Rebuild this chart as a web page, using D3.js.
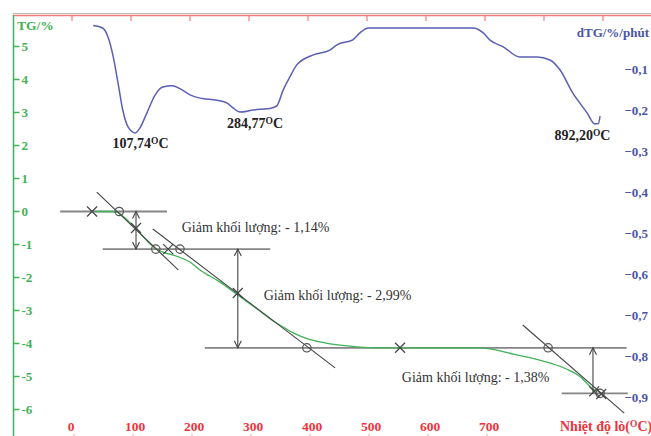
<!DOCTYPE html>
<html>
<head>
<meta charset="utf-8">
<script src="https://cdn.jsdelivr.net/npm/d3@7"></script>
<style>
  body { margin: 0; background: #fff; }
  svg { display: block; font-family: "Liberation Serif", "Times New Roman", serif; }
</style>
</head>
<body>
<svg id="tga_chart"></svg>
<script>
// axis ticks
const tempTicks = [0, 100, 200, 300, 400, 500, 600, 700, 800, 900];
const tempLabels = [0, 100, 200, 300, 400, 500, 600, 700];
const tgTicks = [5, 4, 3, 2, 1, 0, -1, -2, -3, -4, -5, -6];
const dtgTicks = [-0.1, -0.2, -0.3, -0.4, -0.5, -0.6, -0.7, -0.8, -0.9];

// TG curve (temperature, %)
const tgTemp = [39, 64, 78, 88, 98, 108, 120, 132, 142, 154, 178, 200, 217, 251, 281, 319, 344, 358, 375, 395,
  420, 454, 483, 522, 600, 692, 720, 750, 781, 815, 839, 861, 878, 890];
const tgValue = [0, 0, -0.03, -0.17, -0.33, -0.5, -0.75, -0.98, -1.13, -1.23, -1.36, -1.53, -1.77, -2.14, -2.53, -3.02, -3.35, -3.5, -3.68, -3.83,
  -3.95, -4.05, -4.1, -4.13, -4.13, -4.13, -4.2, -4.33, -4.45, -4.62, -4.78, -5.0, -5.3, -5.47];

// dTG curve (temperature, %/min)
const dtgTemp = [36, 52, 61, 70, 78, 86, 95, 107.7, 115, 127, 141, 154, 170, 183, 200, 217, 246, 263, 273, 284.8,
  307, 339, 347, 358, 369, 381, 408, 437, 449, 476, 488, 502, 680, 697, 708, 731, 759, 788, 810, 827,
  849, 873, 886, 892.2, 895];
const dtgValue = [0.006, 0, -0.022, -0.071, -0.134, -0.2, -0.241, -0.256, -0.244, -0.207, -0.163, -0.144, -0.141, -0.148, -0.163, -0.171, -0.176, -0.183, -0.195, -0.205,
  -0.2, -0.195, -0.19, -0.151, -0.12, -0.09, -0.066, -0.054, -0.041, -0.029, -0.012, 0, 0, -0.012, -0.029, -0.046, -0.071, -0.071, -0.078, -0.102,
  -0.159, -0.207, -0.234, -0.233, -0.215];

// dTG peaks
const peakTemp = [107.74, 284.77, 892.20];
const peakValue = [-0.256, -0.205, -0.234];
const peakLabels = ['107,74', '284,77', '892,20'];

// mass loss steps
const massLoss = [1.14, 2.99, 1.38];
const lossLabels = ['Giảm khối lượng: - 1,14%', 'Giảm khối lượng: - 2,99%', 'Giảm khối lượng: - 1,38%'];
const lossLabelTemp = [186, 325, 559];
const lossLabelTG = [-0.62, -2.67, -5.17];

// construction lines
const levelSpan = [[-20, 161], [52, 336], [225, 940], [830, 942]];
const tangentTemp = [[42, 180], [137, 446], [764, 936]];
const tangentTG = [[0.59, -1.77], [-0.53, -4.74], [-3.44, -6.11]];
const arrowTemp = [108.5, 281, 883];
const circleTemp = [80, 142, 183, 398, 807, 895];
const circleLevel = [0, 1, 1, 2, 2, 3];
const crossTemp = [34, 108.5, 163, 281, 556, 885, 897];
const crossTG = [0, -0.5, -1.14, -2.47, -4.13, -5.45, -5.53];

function makeChart() {
    let w = 651;
    let h = 436;

    let green = '#3fb257';
    let red = '#ee3340';
    let blue = '#4c55a6';
    let gray = '#858585';
    let dark = '#444';

    // TG levels from the cumulative mass loss
    let levels = [0].concat(Array.from(d3.cumsum(massLoss), (d) => -d));

    let svg = d3.select('#tga_chart')
        .attr('width', w)
        .attr('height', h);

    let xScale = d3.scaleLinear()
        .domain([0, 900])
        .range([72, 603]);

    let yTG = d3.scaleLinear()
        .domain([-6, 5])
        .range([409.5, 46.5]);

    let yDTG = d3.scaleLinear()
        .domain([-0.9, 0])
        .range([397, 28]);

    // top temperature line with ticks
    svg.append('line')
        .attr('x1', 13).attr('x2', w)
        .attr('y1', 13.5).attr('y2', 13.5)
        .attr('stroke', '#bbb')
        .attr('stroke-width', 1);

    svg.append('line')
        .attr('x1', 13).attr('x2', w)
        .attr('y1', 15.5).attr('y2', 15.5)
        .attr('stroke', '#f47c7c')
        .attr('stroke-width', 1.5);

    svg.selectAll('.top-tick')
        .data(tempTicks)
        .enter()
        .append('line')
        .attr('class', 'top-tick')
        .attr('x1', (d) => xScale(d)).attr('x2', (d) => xScale(d))
        .attr('y1', 15).attr('y2', 21)
        .attr('stroke', '#f47c7c')
        .attr('stroke-width', 1.2);

    svg.selectAll('.bottom-tick')
        .data(tempLabels)
        .enter()
        .append('line')
        .attr('class', 'bottom-tick')
        .attr('x1', (d) => xScale(d) + 2).attr('x2', (d) => xScale(d) + 2)
        .attr('y1', 434).attr('y2', 436)
        .attr('stroke', '#f7a0a0')
        .attr('stroke-width', 1);

    svg.selectAll('.temp-label')
        .data(tempLabels)
        .enter()
        .append('text')
        .attr('class', 'temp-label')
        .attr('x', (d) => xScale(d) + (d === 0 ? -1 : 4))
        .attr('y', 431)
        .attr('text-anchor', 'middle')
        .attr('font-size', '13.5px')
        .attr('font-weight', 'bold')
        .attr('fill', red)
        .text((d) => d);

    let tempTitle = svg.append('text')
        .attr('x', 560)
        .attr('y', 431)
        .attr('font-size', '14px')
        .attr('font-weight', 'bold')
        .attr('fill', red);
    tempTitle.append('tspan').text('Nhiệt độ lò(');
    tempTitle.append('tspan').attr('font-size', '9.5px').attr('dy', -4).text('O');
    tempTitle.append('tspan').attr('dy', 4).text('C)');

    // left TG axis
    svg.append('line')
        .attr('x1', 13.5).attr('x2', 13.5)
        .attr('y1', 15).attr('y2', h)
        .attr('stroke', green)
        .attr('stroke-width', 1.5);

    svg.selectAll('.tg-tick')
        .data(tgTicks)
        .enter()
        .append('line')
        .attr('class', 'tg-tick')
        .attr('x1', 13).attr('x2', 19.5)
        .attr('y1', (d) => yTG(d)).attr('y2', (d) => yTG(d))
        .attr('stroke', green)
        .attr('stroke-width', 1.5);

    svg.selectAll('.tg-label')
        .data(tgTicks)
        .enter()
        .append('text')
        .attr('class', 'tg-label')
        .attr('x', 21.5)
        .attr('y', (d) => yTG(d) + 4.5)
        .attr('font-size', '13px')
        .attr('font-weight', 'bold')
        .attr('fill', green)
        .text((d) => d);

    svg.append('text')
        .attr('x', 17)
        .attr('y', 30)
        .attr('font-size', '13.5px')
        .attr('font-weight', 'bold')
        .attr('fill', green)
        .text('TG/%');

    // right dTG labels
    svg.selectAll('.dtg-label')
        .data(dtgTicks)
        .enter()
        .append('text')
        .attr('class', 'dtg-label')
        .attr('x', 648)
        .attr('y', (d) => yDTG(d) + 4.5)
        .attr('text-anchor', 'end')
        .attr('font-size', '13px')
        .attr('font-weight', 'bold')
        .attr('fill', blue)
        .text((d) => d3.format('.1f')(d).replace('.', ','));

    svg.append('text')
        .attr('x', 649)
        .attr('y', 37)
        .attr('text-anchor', 'end')
        .attr('font-size', '13px')
        .attr('font-weight', 'bold')
        .attr('fill', blue)
        .text('dTG/%/phút');

    // dTG curve
    let dtgLine = d3.line()
        .x((d) => xScale(dtgTemp[d]))
        .y((d) => yDTG(dtgValue[d]))
        .curve(d3.curveMonotoneX);

    svg.append('path')
        .attr('d', dtgLine(d3.range(dtgTemp.length)))
        .attr('fill', 'none')
        .attr('stroke', '#5a60b4')
        .attr('stroke-width', 1.5);

    let peakDx = [5, 15, -16];
    let peakDy = [15, 16, 16];
    peakTemp.forEach((t, i) => {
        let label = svg.append('text')
            .attr('x', xScale(t) + peakDx[i])
            .attr('y', yDTG(peakValue[i]) + peakDy[i])
            .attr('text-anchor', 'middle')
            .attr('font-size', '14px')
            .attr('font-weight', 'bold')
            .attr('fill', '#222');
        label.append('tspan').text(peakLabels[i]);
        label.append('tspan').attr('font-size', '9.5px').attr('dy', -4).text('O');
        label.append('tspan').attr('dy', 4).text('C');
    });

    // level lines
    svg.selectAll('.level')
        .data(levelSpan)
        .enter()
        .append('line')
        .attr('class', 'level')
        .attr('x1', (d) => xScale(d[0])).attr('x2', (d) => xScale(d[1]))
        .attr('y1', (d, i) => yTG(levels[i])).attr('y2', (d, i) => yTG(levels[i]))
        .attr('stroke', gray)
        .attr('stroke-width', 1.8);

    // TG curve
    let tgLine = d3.line()
        .x((d) => xScale(tgTemp[d]))
        .y((d) => yTG(tgValue[d]))
        .curve(d3.curveMonotoneX);

    svg.append('path')
        .attr('d', tgLine(d3.range(tgTemp.length)))
        .attr('fill', 'none')
        .attr('stroke', green)
        .attr('stroke-width', 1.3);

    // tangent lines
    svg.selectAll('.tangent')
        .data(tangentTemp)
        .enter()
        .append('line')
        .attr('class', 'tangent')
        .attr('x1', (d) => xScale(d[0])).attr('x2', (d) => xScale(d[1]))
        .attr('y1', (d, i) => yTG(tangentTG[i][0])).attr('y2', (d, i) => yTG(tangentTG[i][1]))
        .attr('stroke', dark)
        .attr('stroke-width', 1.1);

    // mass loss arrows
    arrowTemp.forEach((t, i) => {
        let ax = xScale(t);
        let yTop = yTG(levels[i]);
        let yBot = yTG(levels[i + 1]);
        svg.append('line')
            .attr('x1', ax).attr('x2', ax)
            .attr('y1', yTop).attr('y2', yBot)
            .attr('stroke', dark)
            .attr('stroke-width', 1.1);
        svg.append('path')
            .attr('d', `M${ax - 3.5},${yTop + 7}L${ax},${yTop}L${ax + 3.5},${yTop + 7}`)
            .attr('fill', 'none')
            .attr('stroke', dark)
            .attr('stroke-width', 1.1);
        if (i < 2) {
            svg.append('path')
                .attr('d', `M${ax - 3.5},${yBot - 7}L${ax},${yBot}L${ax + 3.5},${yBot - 7}`)
                .attr('fill', 'none')
                .attr('stroke', dark)
                .attr('stroke-width', 1.1);
        }
    });

    // onset / endset circles
    svg.selectAll('.onset')
        .data(circleTemp)
        .enter()
        .append('circle')
        .attr('class', 'onset')
        .attr('cx', (d) => xScale(d))
        .attr('cy', (d, i) => yTG(levels[circleLevel[i]]))
        .attr('r', 4.2)
        .attr('fill', 'none')
        .attr('stroke', '#555')
        .attr('stroke-width', 1.2);

    // cross markers
    svg.selectAll('.cross')
        .data(crossTemp)
        .enter()
        .append('path')
        .attr('class', 'cross')
        .attr('d', (d, i) => {
            let cx = xScale(d);
            let cy = yTG(crossTG[i]);
            return `M${cx - 5},${cy - 5}L${cx + 5},${cy + 5}M${cx - 5},${cy + 5}L${cx + 5},${cy - 5}`;
        })
        .attr('stroke', dark)
        .attr('stroke-width', 1.2);

    // mass loss labels
    svg.selectAll('.loss-label')
        .data(lossLabels)
        .enter()
        .append('text')
        .attr('class', 'loss-label')
        .attr('x', (d, i) => xScale(lossLabelTemp[i]))
        .attr('y', (d, i) => yTG(lossLabelTG[i]))
        .attr('font-size', '14px')
        .attr('fill', '#333')
        .text((d) => d);
}

window.onload = function() {
    makeChart();
}
</script>
</body>
</html>
